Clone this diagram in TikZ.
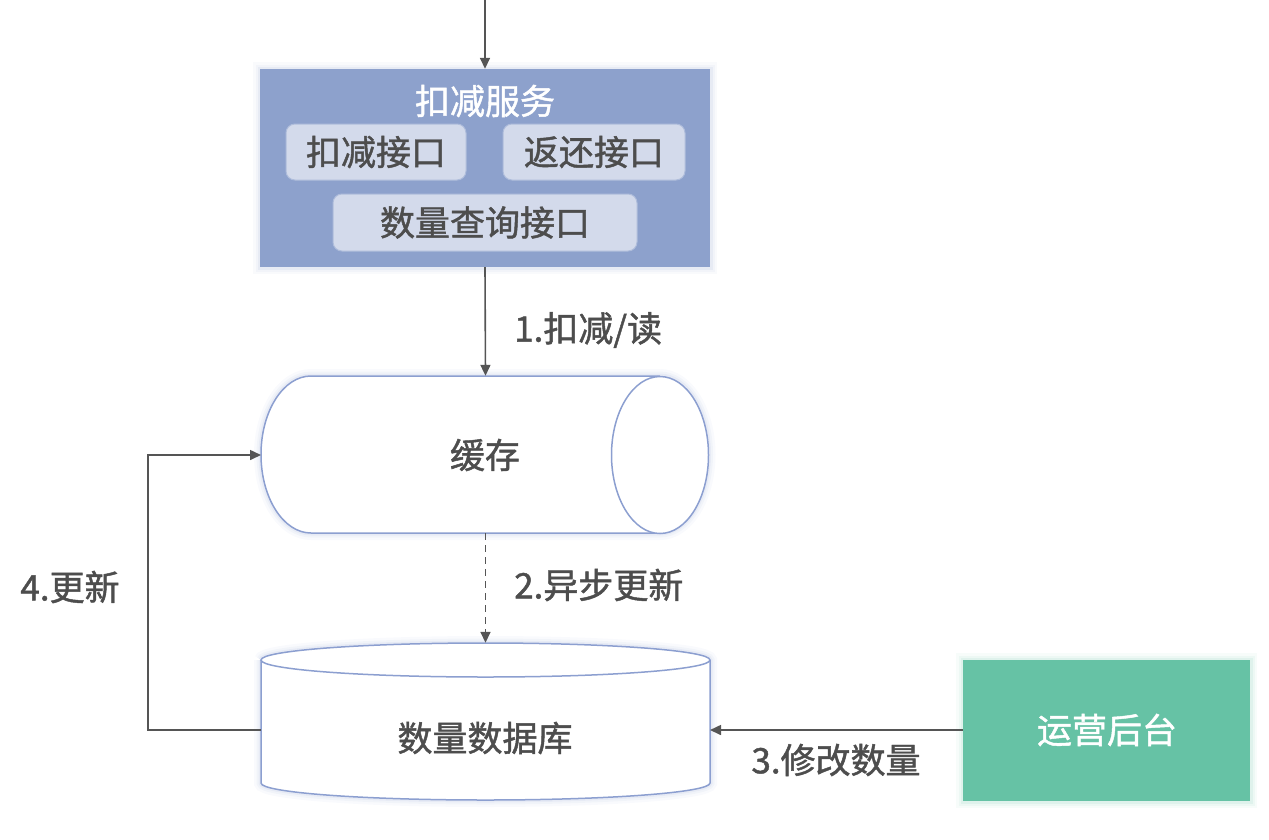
\documentclass[tikz,border=0pt]{standalone}
\usepackage{fontspec}
\newfontfamily\cjk[FakeBold=1.3]{Noto Sans CJK SC}
\usetikzlibrary{arrows.meta}
\definecolor{svcblue}{HTML}{8DA1CC}
\definecolor{ifblue}{HTML}{D3DAEB}
\definecolor{edgeblue}{HTML}{8C9FD0}
\definecolor{txt}{HTML}{4D4D4D}
\definecolor{arr}{HTML}{555555}
\definecolor{opsgreen}{HTML}{66C2A5}
\tikzset{
  lbl/.style={font=\cjk\fontsize{35}{38}\selectfont, text=txt, inner sep=0pt},
  wlbl/.style={font=\cjk\fontsize{35}{38}\selectfont, text=white, inner sep=0pt},
  ifbox/.style={fill=ifblue, draw=svcblue!70!white, line width=1pt, rounded corners=9pt, font=\cjk\fontsize{35}{38}\selectfont, text=txt, inner sep=0pt},
  conn/.style={draw=arr, line width=1.6pt, -{Triangle[length=11pt,width=10pt]}},
  shp/.style={draw=edgeblue, line width=1.5pt, fill=white},
  glow/.style={draw=#1, preaction={draw=#1, line width=14pt, opacity=0.05},
     preaction={draw=#1, line width=9pt, opacity=0.07},
     preaction={draw=#1, line width=5pt, opacity=0.1}}
}
\begin{document}
\begin{tikzpicture}[x=1pt,y=-1pt]
\useasboundingbox (0,0) rectangle (1269,839);
% service box
\draw[glow=svcblue, line width=0pt, draw opacity=0] (260,69) rectangle (710,267);
\node[fill=svcblue, minimum width=450pt, minimum height=198pt, inner sep=0pt] (svc) at (485,168) {};
\node[wlbl] (svct) at (485,101) {扣减服务};
\node[ifbox, minimum width=180pt, minimum height=56pt] (if1) at (376,152) {扣减接口};
\node[ifbox, minimum width=182pt, minimum height=56pt] (if2) at (594,152) {返还接口};
\node[ifbox, minimum width=304pt, minimum height=57pt] (if3) at (485,222.5) {数量查询接口};
% top entry
\coordinate (entry) at (485,0);
\draw[conn] (entry) -- (svc.north);
% cache cylinder
\draw[glow=edgeblue, line width=0pt, draw opacity=0] (660,376) -- (311,376) arc[start angle=90,end angle=270,x radius=50pt,y radius=78.5pt] -- (660,533) arc[start angle=270,end angle=450,x radius=48.5pt,y radius=78.5pt];
\draw[shp] (660,376) -- (311,376) arc[start angle=90,end angle=270,x radius=50pt,y radius=78.5pt] -- (660,533);
\draw[shp] (660,455) ellipse[x radius=48.5pt, y radius=78.5pt];
\node[minimum width=449pt, minimum height=157pt, inner sep=0pt] (cache) at (485.5,454.5) {};
\node[lbl] (cachet) at (485,455) {缓存};
% database
\draw[glow=edgeblue, line width=0pt, draw opacity=0] (261,660) -- (261,783) arc[start angle=180,end angle=360,x radius=224.5pt,y radius=17pt] -- (710,660) arc[start angle=0,end angle=180,x radius=224.5pt,y radius=17pt];
\node[minimum width=449pt, minimum height=157pt, inner sep=0pt] (db) at (485.5,721.5) {};
\draw[shp] (261,660) -- (261,783) arc[start angle=180,end angle=360,x radius=224.5pt,y radius=17pt] -- (710,660);
\draw[shp] (485.5,660) ellipse[x radius=224.5pt, y radius=17pt];
\node[lbl] (dbt) at (485,738) {数量数据库};
% ops
\draw[glow=opsgreen, line width=0pt, draw opacity=0] (963,660) rectangle (1250,801);
\node[fill=opsgreen, minimum width=287pt, minimum height=141pt, inner sep=0pt] (ops) at (1106.5,730.5) {};
\node[wlbl] (opst) at (1107,730) {运营后台};
% connectors
\draw[conn] (svc.south) -- (cache.north);
\node[lbl, anchor=west] (l1) at (514,330) {1.扣减/读};
\draw[conn, dashed, dash pattern=on 7pt off 5pt] (cache.south) -- (db.north);
\node[lbl, anchor=west] (l2) at (514,585) {2.异步更新};
\coordinate (dbr) at (710,730);
\coordinate (opsl) at (963,730);
\draw[conn] (opsl) -- (dbr);
\node[lbl] (l3) at (836,760) {3.修改数量};
\coordinate (dbl) at (261,730);
\coordinate (cl) at (261,455);
\draw[conn] (dbl) -- (148,730) -- (148,455) -- (cl);
\node[lbl] (l4) at (70,587) {4.更新};
\end{tikzpicture}
\end{document}
